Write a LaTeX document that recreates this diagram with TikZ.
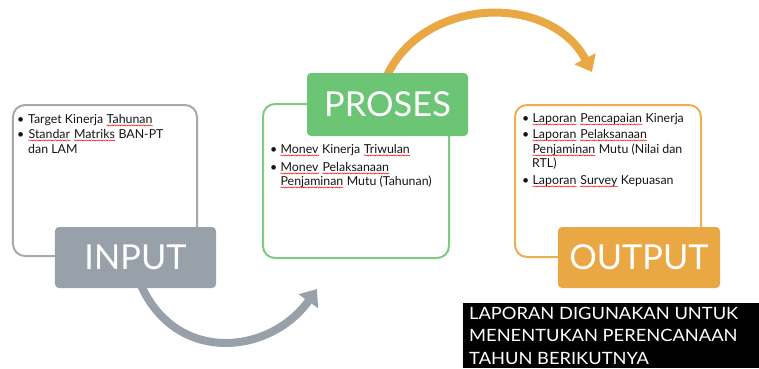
\documentclass[tikz,border=0pt]{standalone}
\usepackage{fontspec}
\setmainfont{Lato}
\newfontfamily\notefont[FakeStretch=1.08]{Lato}
\usetikzlibrary{arrows.meta,decorations.pathmorphing}

\definecolor{ingray}{HTML}{98A0AA}
\definecolor{inline}{HTML}{A3AAB2}
\definecolor{prgreen}{HTML}{6CC574}
\definecolor{prline}{HTML}{7DCB83}
\definecolor{outorange}{HTML}{E9A844}
\definecolor{outline}{HTML}{EBAE55}
\definecolor{bodytext}{HTML}{141414}

% red wavy underline, as left by a spell checker
\newcommand\spell[1]{\tikz[baseline=(sw.base)]{%
  \node[inner sep=0pt, anchor=base] (sw) {#1};
  \draw[red, line width=0.45bp, decorate,
    decoration={snake, amplitude=0.55bp, segment length=2.4bp}]
    ([yshift=-2.4bp]sw.base west) -- ([yshift=-2.4bp]sw.base east);}}

\begin{document}
\begin{tikzpicture}[x=1bp,y=-1bp,
  frame/.style={draw, line width=2bp, rounded corners=12bp, inner sep=0pt},
  tag/.style={rounded corners=4bp, inner sep=0pt, text=white,
    font=\fontsize{34.5}{40}\selectfont},
  bul/.style={anchor=base west, inner sep=0pt, text=bodytext,
    font=\fontsize{12.4}{14}\selectfont},
  note/.style={anchor=base west, inner sep=0pt, text=white,
    font=\notefont\fontsize{17}{20}\selectfont},
  bigarrow/.style={line width=8bp, -{Triangle[length=15bp,width=23bp]}}]
\useasboundingbox (0,0) rectangle (759,368);

% curved arrows behind the boxes
\coordinate (gs) at (140,283);
\coordinate (gt) at (317,289);
\draw[bigarrow, ingray] (gs) .. controls (175,365) and (270,355) .. (gt);
\coordinate (os) at (385,80);
\coordinate (ot) at (592,72);
\draw[bigarrow, outorange] (os) .. controls (420,-4) and (550,-8) .. (ot);

% outlined boxes
\node[frame, draw=inline, minimum width=184bp, minimum height=151bp] (inbox) at (105,180.5) {};
\node[frame, draw=prline, minimum width=186bp, minimum height=154bp] (prbox) at (356,181) {};
\node[frame, draw=outline, minimum width=186bp, minimum height=152bp] (outbox) at (608,181) {};

% title tags
\node[tag, fill=ingray, minimum width=161bp, minimum height=61bp] (input) at (135.5,257.5) {INPUT};
\node[tag, fill=prgreen, minimum width=161bp, minimum height=63bp] (proses) at (387.5,104.5) {PROSES};
\node[tag, fill=outorange, minimum width=162bp, minimum height=61bp] (output) at (639,257.5) {OUTPUT};

% input items
\node[bul] (ib1) at (17,123) {\textbullet};
\node[bul] (it1) at (28,123) {Target Kinerja \spell{Tahunan}};
\node[bul] (ib2) at (17,138) {\textbullet};
\node[bul] (it2) at (28,138) {\spell{Standar} \spell{Matriks} BAN-PT};
\node[bul] (it3) at (28,153) {dan LAM};

% process items
\node[bul] (pb1) at (270,153) {\textbullet};
\node[bul] (pt1) at (280,153) {\spell{Monev} Kinerja \spell{Triwulan}};
\node[bul] (pb2) at (270,171) {\textbullet};
\node[bul] (pt2) at (280,171) {\spell{Monev} \spell{Pelaksanaan}};
\node[bul] (pt3) at (280,185) {\spell{Penjaminan} Mutu (Tahunan)};

% output items
\node[bul] (ob1) at (522,122) {\textbullet};
\node[bul] (ot1) at (532,122) {\spell{Laporan} \spell{Pencapaian} Kinerja};
\node[bul] (ob2) at (522,138) {\textbullet};
\node[bul] (ot2) at (532,138) {\spell{Laporan} \spell{Pelaksanaan}};
\node[bul] (ot3) at (532,153) {\spell{Penjaminan} Mutu (Nilai dan};
\node[bul] (ot4) at (532,167) {RTL)};
\node[bul] (ob3) at (522,184) {\textbullet};
\node[bul] (ot5) at (532,184) {\spell{Laporan} \spell{Survey} Kepuasan};

% closing note
\node[fill=black, inner sep=0pt, anchor=north west, minimum width=296bp, minimum height=65bp] (notebox) at (463,303) {};
\node[note] (n1) at (469,319) {LAPORAN DIGUNAKAN UNTUK};
\node[note] (n2) at (469,341.5) {MENENTUKAN PERENCANAAN};
\node[note] (n3) at (469,364) {TAHUN BERIKUTNYA};
\end{tikzpicture}
\end{document}
